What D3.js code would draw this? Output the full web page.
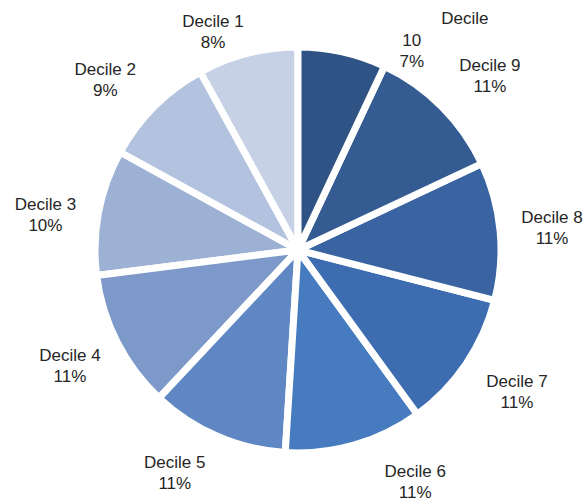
<!DOCTYPE html>
<html>
<head>
<meta charset="utf-8">
<script src="https://cdn.jsdelivr.net/npm/d3@7"></script>
<style>
  html, body { margin: 0; padding: 0; background: #fff; }
  svg { display: block; }
</style>
</head>
<body>
<svg id="chart" width="585" height="502"></svg>
<script>
// Share of total by income decile
const categories = ["Decile 1", "Decile 2", "Decile 3", "Decile 4", "Decile 5",
                    "Decile 6", "Decile 7", "Decile 8", "Decile 9", "Decile 10"];
const shares = [8, 9, 10, 11, 11, 11, 11, 11, 11, 7];
const colors = ["#c7d1e5", "#b3c2de", "#9db1d5", "#7d99c9", "#5e87c3",
                "#467cbf", "#3d6db0", "#3964a1", "#345b92", "#2f5384"];

// Label layout: angular nudge (degrees) and distance from centre
const labelNudge = [-6.9, -3.6, -2.9, 0, 5.5, -10.6, -1.2, 0.4, 2.8, 17.2];
const labelRadius = [234, 257, 255, 256, 255, 260, 261, 255, 259, 229];

const width = 585, height = 502;
const cx = 298, cy = 250, radius = 203;

const svg = d3.select("#chart");
const g = svg.append("g").attr("transform", `translate(${cx},${cy})`);

// Decile 1 sits just left of twelve o'clock; slices run anticlockwise from there
const pie = d3.pie().sort(null).value(d => d.value)
  .startAngle(2 * Math.PI).endAngle(0);

const data = categories.map((c, i) => ({ name: c, value: shares[i], color: colors[i], i }));
const arcs = pie(data);

const arc = d3.arc().innerRadius(0).outerRadius(radius);

g.selectAll("path.slice")
  .data(arcs)
  .join("path")
  .attr("class", "slice")
  .attr("d", arc)
  .attr("fill", d => d.data.color)
  .attr("stroke", "#fff")
  .attr("stroke-width", 7)
  .attr("stroke-linejoin", "round");

const fontFamily = "'Liberation Sans', Arial, Helvetica, sans-serif";
const lineH = 21;

arcs.forEach(a => {
  const i = a.data.i;
  const mid = (a.startAngle + a.endAngle) / 2 + labelNudge[i] * Math.PI / 180;
  const r = labelRadius[i];
  const x = r * Math.sin(mid);
  const y = -r * Math.cos(mid);
  const pct = a.data.value + "%";
  let lines;
  if (a.data.name === "Decile 10") {
    // wrapped label: the word sits above and to the right of the number
    const parts = a.data.name.split(" ");
    lines = [
      { t: parts[0], dx: 53, dy: -33 },
      { t: parts[1], dx: 0, dy: -lineH / 2 },
      { t: pct, dx: 0, dy: lineH / 2 }
    ];
  } else {
    lines = [
      { t: a.data.name, dx: 0, dy: -lineH / 2 },
      { t: pct, dx: 0, dy: lineH / 2 }
    ];
  }
  lines.forEach(l => {
    g.append("text")
      .attr("x", x + l.dx)
      .attr("y", y + l.dy)
      .attr("text-anchor", "middle")
      .attr("dominant-baseline", "central")
      .attr("font-family", fontFamily)
      .attr("font-size", 17)
      .attr("fill", "#262626")
      .text(l.t);
  });
});
</script>
</body>
</html>
